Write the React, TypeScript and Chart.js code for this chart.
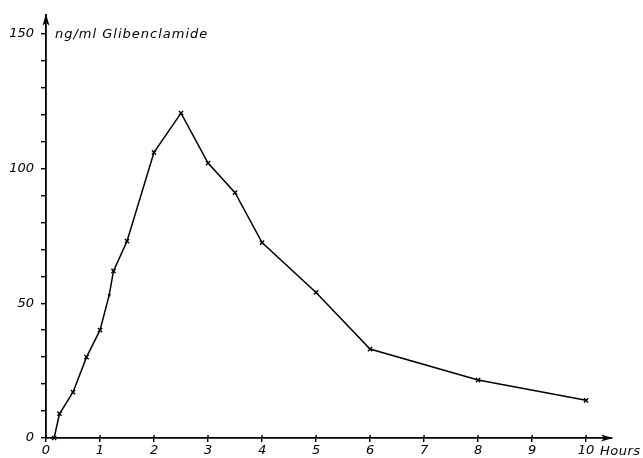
import React, { useEffect, useRef } from "react";
import { Chart, registerables } from "chart.js";

Chart.register(...registerables);

const hours = [0.15, 0.25, 0.5, 0.75, 1, 1.17, 1.25, 1.5, 2, 2.5, 3, 3.5, 4, 5, 6, 8, 10];
const concentration = [0, 9, 17, 30, 40, 53, 62, 73, 106, 120.5, 102, 91, 72.5, 54, 33, 21.5, 14];
const markerSizes = [3, 3, 3, 3, 3, 1.5, 3, 3, 3, 3, 3, 3, 3, 3, 3, 3, 3];
const xTicks = [0, 1, 2, 3, 4, 5, 6, 7, 8, 9, 10];
const yTicks = [0, 10, 20, 30, 40, 50, 60, 70, 80, 90, 100, 110, 120, 130, 140, 150];
const yLabels = [0, 50, 100, 150];
const yTitle = "ng/ml Glibenclamide";
const xTitle = "Hours";

const FONT = "DejaVu Sans";

const decor = {
  id: "decor",
  afterDraw(chart: any) {
    const { ctx, chartArea, scales } = chart;
    const x0 = scales.x.getPixelForValue(0);
    const y0 = scales.y.getPixelForValue(0);
    ctx.save();
    ctx.strokeStyle = "#000";
    ctx.fillStyle = "#000";
    ctx.lineWidth = 1.4;
    for (const t of xTicks) {
      const px = scales.x.getPixelForValue(t);
      ctx.beginPath();
      ctx.moveTo(px, y0 - 3);
      ctx.lineTo(px, y0);
      ctx.stroke();
    }
    const topY = chartArea.top;
    ctx.beginPath();
    ctx.moveTo(x0, topY - 1);
    ctx.lineTo(x0 - 3.5, topY + 11);
    ctx.lineTo(x0, topY + 8);
    ctx.lineTo(x0 + 3.5, topY + 11);
    ctx.closePath();
    ctx.fill();
    const rightX = chartArea.right;
    ctx.beginPath();
    ctx.moveTo(rightX + 1, y0);
    ctx.lineTo(rightX - 11, y0 - 3.5);
    ctx.lineTo(rightX - 8, y0);
    ctx.lineTo(rightX - 11, y0 + 3.5);
    ctx.closePath();
    ctx.fill();
    ctx.font = `italic 13px "${FONT}"`;
    ctx.textBaseline = "middle";
    ctx.textAlign = "left";
    (ctx as any).letterSpacing = "1px";
    ctx.fillText(yTitle, 55, 35);
    (ctx as any).letterSpacing = "0.5px";
    ctx.fillText(xTitle, 600, 452);
    ctx.restore();
  },
};

export default function App() {
  const ref = useRef<HTMLCanvasElement>(null);
  useEffect(() => {
    if (!ref.current) return;
    const chart = new Chart(ref.current, {
      type: "line",
      data: {
        datasets: [
          {
            data: hours.map((h, i) => ({ x: h, y: concentration[i] })),
            borderColor: "#000",
            borderWidth: 1.5,
            pointStyle: "crossRot",
            pointRadius: markerSizes,
            pointBorderColor: "#000",
            pointBorderWidth: 1.4,
            fill: false,
            tension: 0,
            clip: false as any,
          },
        ],
      },
      plugins: [decor],
      options: {
        responsive: false,
        animation: false,
        events: [],
        layout: { padding: { top: 14, right: 31, left: 0, bottom: 0 } },
        plugins: { legend: { display: false }, tooltip: { enabled: false } },
        scales: {
          x: {
            type: "linear",
            min: 0,
            max: 10.48,
            afterBuildTicks: (s: any) => {
              s.ticks = xTicks.map((v) => ({ value: v }));
            },
            afterFit: (s: any) => {
              s.height = 20;
            },
            grid: {
              display: true,
              drawOnChartArea: false,
              drawTicks: true,
              tickLength: 4,
              color: "#000",
              lineWidth: 1.4,
            },
            border: { display: true, color: "#000", width: 1.8 },
            ticks: {
              autoSkip: false,
              maxRotation: 0,
              padding: 1,
              color: "#000",
              font: { family: FONT, size: 13, style: "italic" },
              callback: (v: any) => String(v),
            },
          },
          y: {
            type: "linear",
            min: 0,
            max: 157,
            afterBuildTicks: (s: any) => {
              s.ticks = yTicks.map((v) => ({ value: v }));
            },
            afterFit: (s: any) => {
              s.width = 46;
            },
            grid: {
              display: true,
              drawOnChartArea: false,
              drawTicks: true,
              tickLength: 5,
              color: "#000",
              lineWidth: 1.4,
            },
            border: { display: true, color: "#000", width: 1.8 },
            ticks: {
              autoSkip: false,
              padding: 7,
              color: "#000",
              font: { family: FONT, size: 13, style: "italic" },
              callback: (v: any) => (yLabels.includes(Number(v)) ? String(v) : ""),
            },
          },
        },
      },
    });
    return () => chart.destroy();
  }, []);
  return (
    <div style={{ position: "fixed", left: 0, top: 0, width: 643, height: 458, background: "#fff" }}>
      <canvas ref={ref} width={643} height={458} style={{ display: "block" }} />
    </div>
  );
}
